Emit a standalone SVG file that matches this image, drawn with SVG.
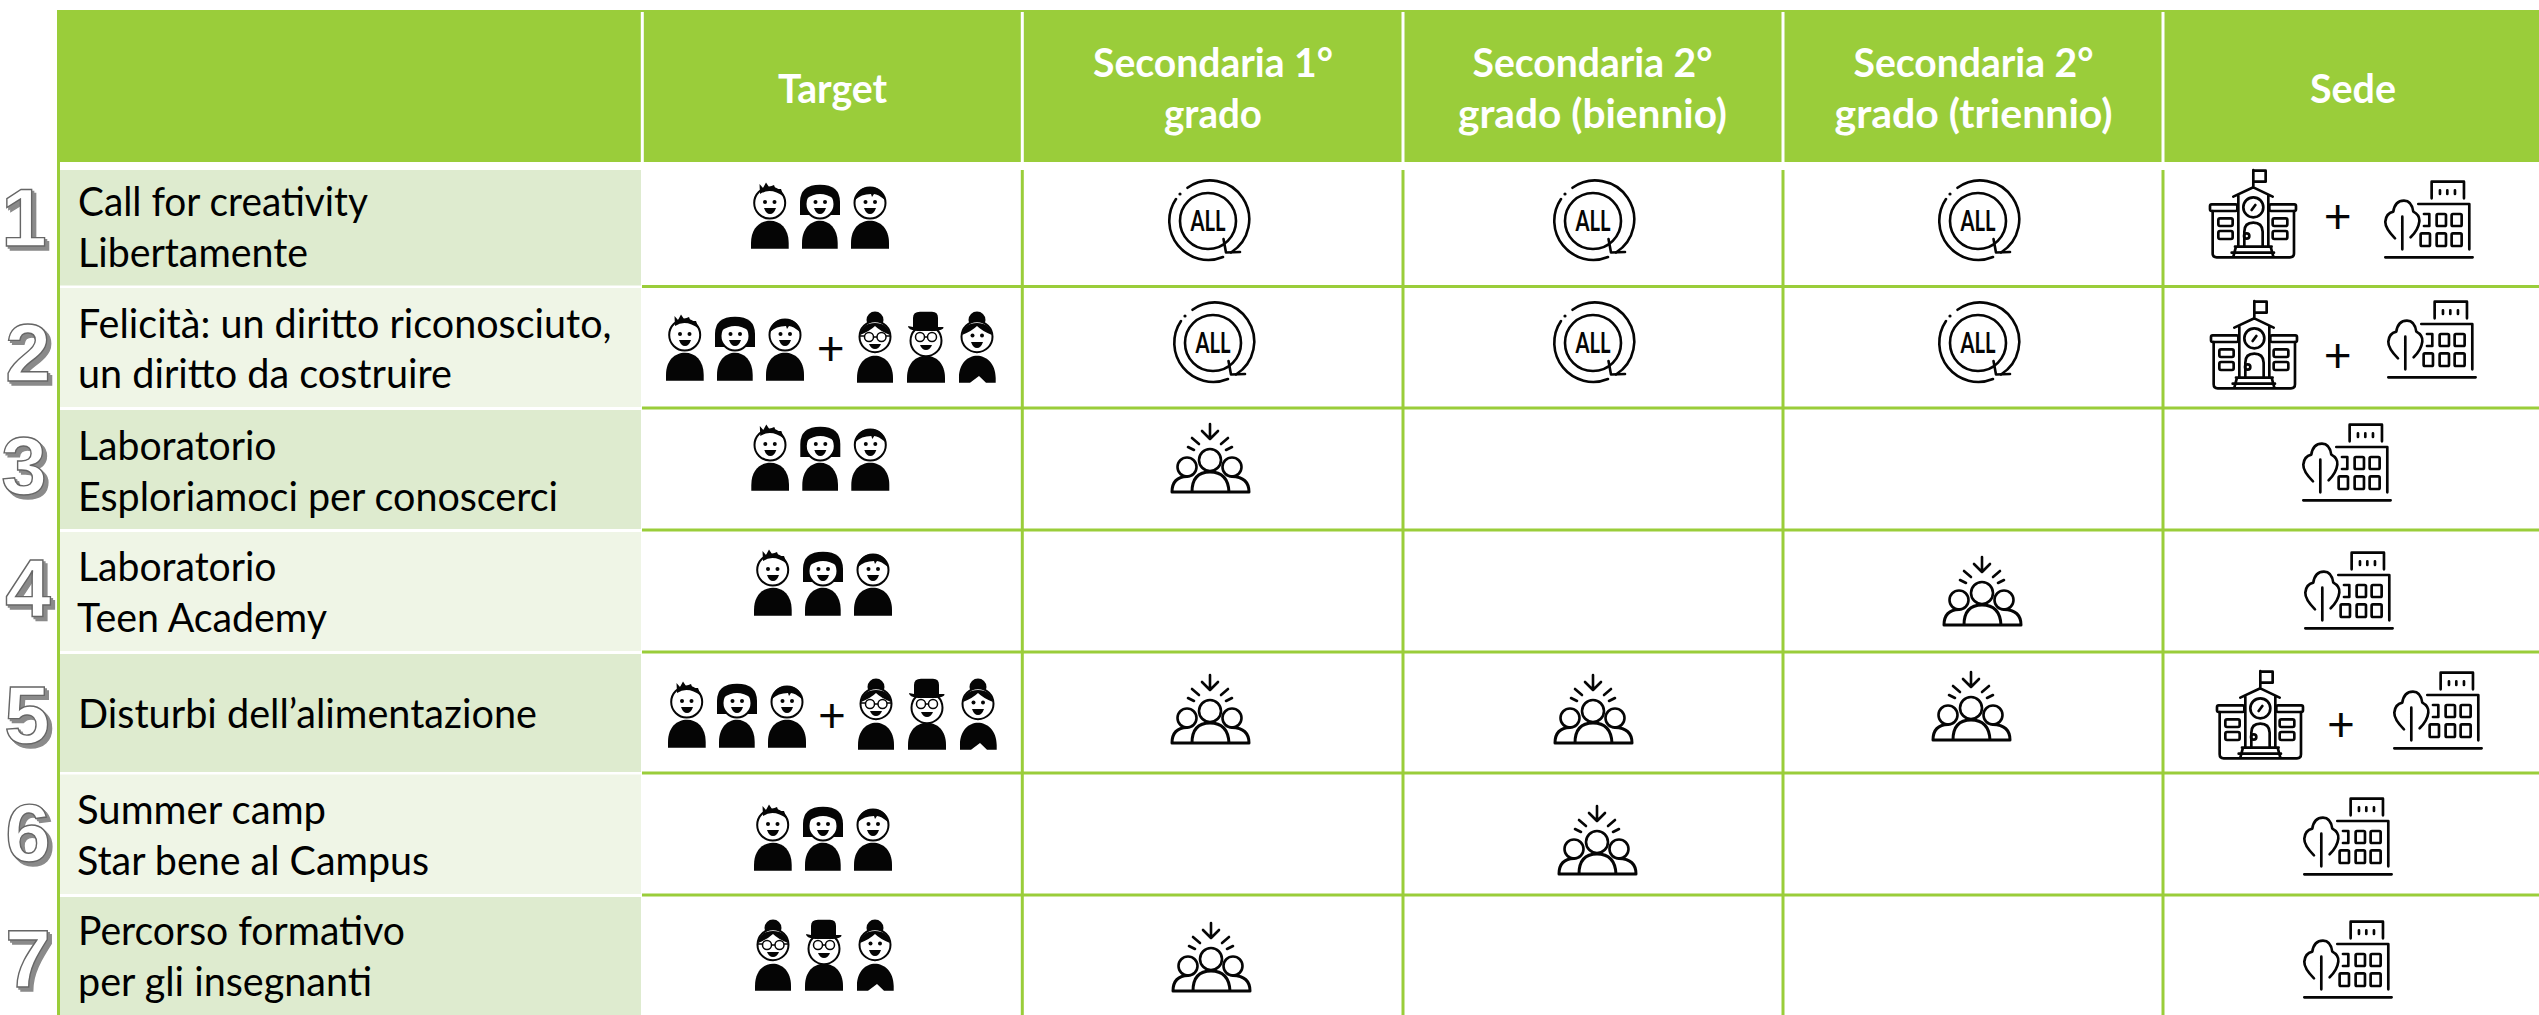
<svg xmlns="http://www.w3.org/2000/svg" width="2539" height="1015" viewBox="0 0 2539 1015">
<style>
.t{font-family:Lato,"Liberation Sans",sans-serif;font-size:40px;fill:#000}
.h{font-family:Lato,"Liberation Sans",sans-serif;font-size:40px;font-weight:700;fill:#fff;text-anchor:middle}
.n{font-family:"Liberation Sans",Arial,sans-serif;font-size:82px;font-weight:700;fill:#fff;stroke:#666;stroke-width:1.4;text-anchor:middle;filter:url(#sh)}
.p{font-family:Lato,"Liberation Sans",sans-serif;font-size:48px;font-weight:400;fill:#050505;text-anchor:middle}
.g{stroke:#9ACD3A;stroke-width:3;fill:none}
.w{stroke:#fff;stroke-width:3;fill:none}
.k{fill:#050505}
.f{fill:#fff;stroke:#050505;stroke-width:2}
.o{fill:none;stroke:#050505;stroke-width:2.6;stroke-linecap:round;stroke-linejoin:round}
.i{fill:none;stroke:#050505;stroke-width:8;stroke-linecap:round;stroke-linejoin:round}
.al{font-family:Lato,"Liberation Sans",sans-serif;font-size:28px;font-weight:700;fill:#050505;text-anchor:middle}
</style>
<defs>
<filter id="sh" x="-20%" y="-20%" width="150%" height="150%">
<feOffset in="SourceAlpha" dx="1.500" dy="1.500" result="a"/><feOffset in="SourceAlpha" dx="3.500" dy="3.500" result="b"/>
<feMerge result="m"><feMergeNode in="a"/><feMergeNode in="b"/></feMerge>
<feFlood flood-color="#8a8a8a"/><feComposite in2="m" operator="in" result="s"/>
<feMerge><feMergeNode in="s"/><feMergeNode in="SourceGraphic"/></feMerge>
</filter>
<g id="kids">
<path class="k" d="M666 380.7V375C666 360 675 352.7 685 352.7S703.7 360 703.7 375V380.7Z"/>
<circle class="f" cx="684.7" cy="335" r="15.5"/>
<path class="k" d="M675 326L674.5 316L678 320L681 314.5L684 319L689 317L690.5 321L696 321L699 329Q686 319 675 326Z"/>
<circle class="k" cx="680" cy="334" r="2"/><circle class="k" cx="689.5" cy="334" r="2"/>
<path class="k" d="M679 340H691Q689 346 685 346T679 340Z"/>
<path class="k" d="M717 380.7V375C717 360 726 352.7 735 352.7S752.700 360 752.700 375V380.700Z"/>
<path class="k" d="M715 347V334Q715 316.700 735 316.700T755 334V347Z"/>
<circle class="f" cx="735" cy="336" r="14.5"/>
<path class="k" d="M721 331Q735 321 749 331Q746 322 735 321Q724 322 721 331Z"/>
<circle class="k" cx="730.5" cy="334" r="2"/><circle class="k" cx="740" cy="334" r="2"/>
<path class="k" d="M729 340H741Q739 346 735 346T729 340Z"/>
<path class="k" d="M766 380.7V375C766 360 775 352.7 785 352.7S804 360 804 375V380.7Z"/>
<circle class="f" cx="785" cy="335" r="15.5"/>
<path class="k" d="M770 332Q772 319 785 319T800 332Q793 326 789 326L787 329L786 326Q776 326 770 332Z"/>
<circle class="k" cx="780.5" cy="334" r="2"/><circle class="k" cx="790" cy="334" r="2"/>
<path class="k" d="M779 340H791Q789 346 785 346T779 340Z"/>
</g>
<g id="adults">
<path class="k" d="M857 382.7V378C857 363 866 355.7 875 355.7S893 363 893 378V382.7Z"/>
<circle class="k" cx="875" cy="320" r="8.5"/>
<circle class="f" cx="875" cy="336.7" r="15.5"/>
<path class="k" d="M860 335Q862 323 875 323T890 335Q880 331 875 326Q870 331 860 335Z"/>
<circle cx="869" cy="337" r="4.5" fill="none" stroke="#050505" stroke-width="1.5"/><circle cx="881.5" cy="337" r="4.5" fill="none" stroke="#050505" stroke-width="1.5"/>
<path d="M873.5 337H877M860 336H864.5M886 336H890" stroke="#050505" stroke-width="1.5"/>
<path class="k" d="M869 344H881Q879 349 875 349T869 344Z"/>
<path class="k" d="M907 382.7V378C907 363 916 355.7 926 355.7S945 363 945 378V382.7Z"/>
<circle class="f" cx="926" cy="340.7" r="15.5"/>
<path class="k" d="M913 327V318Q913 311.7 920 311.7H932Q938 311.7 938 318V327H943.5Q944 330 935 331H917Q908 330 908 326Z"/>
<circle cx="920" cy="337" r="4.5" fill="none" stroke="#050505" stroke-width="1.5"/><circle cx="932" cy="337" r="4.5" fill="none" stroke="#050505" stroke-width="1.5"/>
<path d="M924.5 337H927.5" stroke="#050505" stroke-width="1.5"/>
<path class="k" d="M920 345H932Q930 350 926 350T920 345Z"/>
<path class="k" d="M959 382.7V378C959 363 968 355.7 977 355.7S995.7 363 995.7 378V382.7H986L979 376L970 382.7Z"/>
<circle class="k" cx="977" cy="320" r="8.5"/>
<circle class="f" cx="977" cy="336.7" r="15.5"/>
<path class="k" d="M962 335Q964 323 977 323T992 335Q982 331 977 326Q972 331 962 335Z"/>
<circle class="k" cx="972.5" cy="335.5" r="2"/><circle class="k" cx="982" cy="335.5" r="2"/>
<path class="k" d="M971 342H983Q981 348 977 348T971 342Z"/>
</g>
<g id="all">
<path class="o" d="M-20.5-33.2A39 39 0 1 1 23 31.500M15 36A39 39 0 0 1-32-22"/>
<circle class="k" cx="-28" cy="-27" r="1.6"/>
<circle class="o" r="28"/>
<path class="o" d="M15.500 18L18 31.500L32 31"/>
<text class="al" y="10" textLength="35" lengthAdjust="spacingAndGlyphs">ALL</text>
</g>
<g id="meet">
<path class="o" d="M1210 424V439M1202 431L1210 439L1218 431M1192 438L1199 444M1228 438L1221 444M1188 447L1194 450M1232 447L1226 450"/>
<circle class="o" cx="1210" cy="460" r="11"/><circle class="o" cx="1187" cy="467" r="9.5"/><circle class="o" cx="1232" cy="467" r="9.5"/>
<path class="o" style="stroke-width:3" d="M1172 492Q1172 477 1187 476.500M1249 492Q1249 477 1232 476.500M1192 492Q1192 472 1210 472T1229 492M1172 492H1249"/>
</g>
<g id="school" transform="scale(.3333)">
<path class="i" d="M310 110V60M310 62H347V95H312M250 140L310 112L368 140M265 135V290M355 135V290M305 180L316 165M283 290V245Q283 218 310 218T338 245V290M255 290H365M245 308H372M258 290L250 320M362 290L370 320M188 183V310Q188 322 200 322H420Q432 322 432 310V183"/>
<circle class="i" cx="310" cy="172" r="30"/><circle class="i" cx="290" cy="258" r="8"/>
<rect class="i" x="180" y="163" width="82" height="20" rx="5"/><rect class="i" x="358" y="163" width="80" height="20" rx="5"/>
<rect class="i" x="205" y="205" width="43" height="23" rx="5"/><rect class="i" x="205" y="243" width="43" height="24" rx="5"/><rect class="i" x="368" y="205" width="44" height="23" rx="5"/><rect class="i" x="368" y="243" width="44" height="24" rx="5"/>
</g>
<g id="campus" transform="scale(.3333)">
<path class="i" d="M845 145V95H942V145M870 121V132M892 121V132M915 121V132M805 162H958V298M822 192H838V228H822M735 265Q705 235 706 215Q708 190 730 185Q735 152 762 152Q785 152 790 185Q810 195 808 215Q805 240 782 262M757 200V298M706 322H968"/>
<rect class="i" x="860" y="192" width="28" height="36" rx="4"/><rect class="i" x="905" y="192" width="30" height="36" rx="4"/>
<rect class="i" x="812" y="250" width="28" height="38" rx="4"/><rect class="i" x="860" y="250" width="28" height="38" rx="4"/><rect class="i" x="905" y="250" width="30" height="38" rx="4"/>
</g>
</defs>
<rect width="2539" height="1015" fill="#fff"/>
<g id="header">
<rect x="57" y="10" width="2482" height="152" fill="#9ACD3A"/>
<path class="w" d="M642.300 12V162M1022.300 12V162M1403 12V162M1783 12V162M2163 12V162"/>
<text class="h" x="832.500" y="103" textLength="109" lengthAdjust="spacingAndGlyphs">Target</text>
<text class="h" x="1213" y="77" textLength="240" lengthAdjust="spacingAndGlyphs">Secondaria 1°</text>
<text class="h" x="1213" y="128" textLength="98" lengthAdjust="spacingAndGlyphs">grado</text>
<text class="h" x="1592.500" y="77" textLength="240" lengthAdjust="spacingAndGlyphs">Secondaria 2°</text>
<text class="h" x="1592.500" y="128" textLength="269" lengthAdjust="spacingAndGlyphs">grado (biennio)</text>
<text class="h" x="1973.500" y="77" textLength="240" lengthAdjust="spacingAndGlyphs">Secondaria 2°</text>
<text class="h" x="1973.500" y="128" textLength="278" lengthAdjust="spacingAndGlyphs">grado (triennio)</text>
<text class="h" x="2353" y="103" textLength="86" lengthAdjust="spacingAndGlyphs">Sede</text>
</g>
<g id="grid">
<path d="M58.500 162V1015" class="g"/>
<path class="g" d="M1022.300 170V1015M1403 170V1015M1783 170V1015M2163 170V1015M642 286.500H2539M642 408H2539M642 530H2539M642 652H2539M642 773H2539M642 895H2539"/>
</g>
<g id="row1">
<rect x="60" y="170" width="581" height="115.500" fill="#DEEBCF"/>
<text class="n" x="24" y="246">1</text>
<text class="t" x="78" y="216" textLength="290" lengthAdjust="spacingAndGlyphs">Call for creativity</text>
<text class="t" x="78" y="267" textLength="230" lengthAdjust="spacingAndGlyphs">Libertamente</text>
<use href="#kids" transform="translate(85,-132)"/>
<use href="#all" x="1208" y="221"/><use href="#all" x="1593" y="221"/><use href="#all" x="1978" y="221"/>
<use href="#school" transform="translate(2150,150)"/><text class="p" x="2337.700" y="233">+</text><use href="#campus" transform="translate(2150,150)"/>
</g>
<g id="row2">
<rect x="60" y="288" width="581" height="119" fill="#EFF5E6"/>
<text class="n" x="28" y="381">2</text>
<text class="t" x="78" y="338" textLength="533.500" lengthAdjust="spacingAndGlyphs">Felicità: un diritto riconosciuto,</text>
<text class="t" x="78" y="388" textLength="374" lengthAdjust="spacingAndGlyphs">un diritto da costruire</text>
<use href="#kids"/><text class="p" x="830.700" y="365">+</text><use href="#adults"/>
<use href="#all" x="1213" y="343"/><use href="#all" x="1593" y="343"/><use href="#all" x="1978" y="343"/>
<use href="#school" transform="translate(2151,281)"/><text class="p" x="2337.700" y="372">+</text><use href="#campus" transform="translate(2153,270)"/>
</g>
<g id="row3">
<rect x="60" y="410" width="581" height="119" fill="#DEEBCF"/>
<text class="n" x="24" y="494">3</text>
<text class="t" x="78" y="460" textLength="198.500" lengthAdjust="spacingAndGlyphs">Laboratorio</text>
<text class="t" x="78" y="511" textLength="480" lengthAdjust="spacingAndGlyphs">Esploriamoci per conoscerci</text>
<use href="#kids" transform="translate(85.300,110)"/>
<use href="#meet"/>
<use href="#campus" transform="translate(2068,393)"/>
</g>
<g id="row4">
<rect x="60" y="532" width="581" height="119" fill="#EFF5E6"/>
<text class="n" x="28" y="616">4</text>
<text class="t" x="78" y="581" textLength="198.500" lengthAdjust="spacingAndGlyphs">Laboratorio</text>
<text class="t" x="77" y="632" textLength="250" lengthAdjust="spacingAndGlyphs">Teen Academy</text>
<use href="#kids" transform="translate(88,235)"/>
<use href="#meet" transform="translate(772,133)"/>
<use href="#campus" transform="translate(2070,521)"/>
</g>
<g id="row5">
<rect x="60" y="654" width="581" height="118" fill="#DEEBCF"/>
<text class="n" x="27" y="743">5</text>
<text class="t" x="78" y="728" textLength="459" lengthAdjust="spacingAndGlyphs">Disturbi dell’alimentazione</text>
<use href="#kids" transform="translate(2,367)"/><text class="p" x="832" y="732">+</text><use href="#adults" transform="translate(1,367)"/>
<use href="#meet" transform="translate(0,251)"/><use href="#meet" transform="translate(383,251)"/><use href="#meet" transform="translate(761,248)"/>
<use href="#school" transform="translate(2157,651)"/><text class="p" x="2341" y="741">+</text><use href="#campus" transform="translate(2159,641)"/>
</g>
<g id="row6">
<rect x="60" y="774.500" width="581" height="119.500" fill="#EFF5E6"/>
<text class="n" x="28" y="861">6</text>
<text class="t" x="77" y="824" textLength="249" lengthAdjust="spacingAndGlyphs">Summer camp</text>
<text class="t" x="77" y="875" textLength="352" lengthAdjust="spacingAndGlyphs">Star bene al Campus</text>
<use href="#kids" transform="translate(88,490)"/>
<use href="#meet" transform="translate(387,382)"/>
<use href="#campus" transform="translate(2069,767)"/>
</g>
<g id="row7">
<rect x="60" y="897" width="581" height="118" fill="#DEEBCF"/>
<text class="n" x="28" y="987">7</text>
<text class="t" x="78" y="945" textLength="327" lengthAdjust="spacingAndGlyphs">Percorso formativo</text>
<text class="t" x="78" y="996" textLength="294" lengthAdjust="spacingAndGlyphs">per gli insegnanti</text>
<use href="#adults" transform="translate(-102,608)"/>
<use href="#meet" transform="translate(1,499)"/>
<use href="#campus" transform="translate(2069,890)"/>
</g>
</svg>
